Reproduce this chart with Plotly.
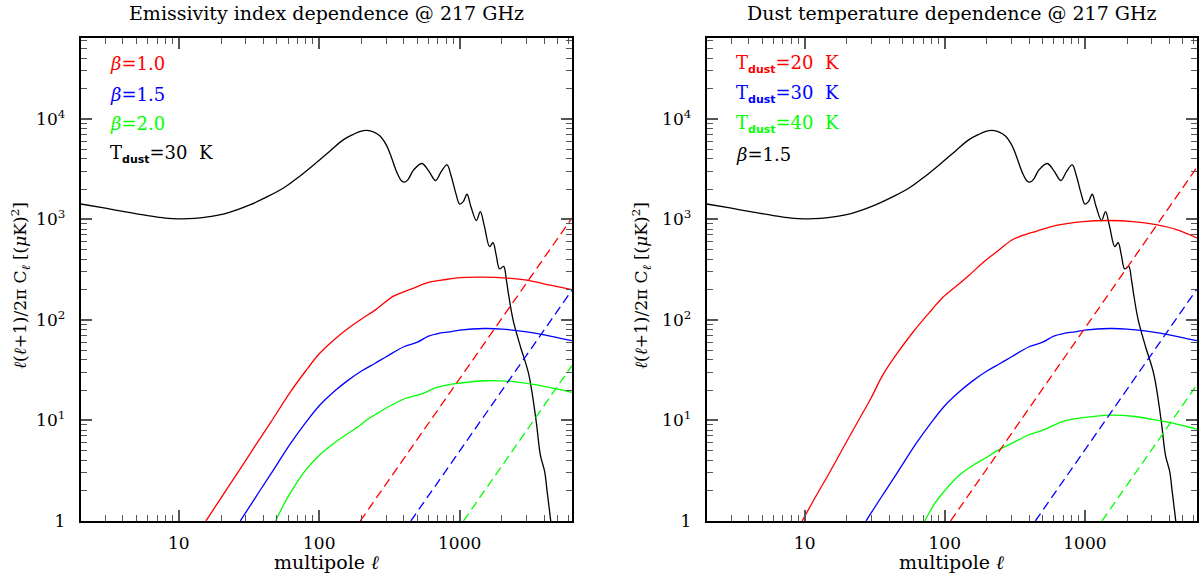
import plotly.graph_objects as go
import math

# ---------------- data ----------------
ell_cmb = [2, 3, 4, 6, 8, 10, 13, 17, 22, 32, 42, 56, 73, 96, 120, 149, 175, 196, 218, 245,
           272, 300, 321, 357, 385, 405, 430, 470, 538, 600, 674, 740, 812, 870, 940, 1000,
           1060, 1128, 1200, 1315, 1403, 1500, 1634, 1727, 1820, 1924, 2055, 2150, 2233,
           2400, 2700, 3100, 3500, 3760, 4030, 4190, 4450, 4700]
cl_cmb = [1420, 1290, 1200, 1090, 1030, 1010, 1020, 1070, 1150, 1390, 1660, 2060, 2700, 3690,
          4820, 6200, 7000, 7480, 7650, 7350, 6700, 5500, 4420, 2930, 2420, 2340, 2500, 3100,
          3590, 3050, 2430, 3000, 3480, 2700, 1800, 1417, 1500, 1775, 1350, 973, 1191, 850,
          534, 585, 440, 321, 341, 250, 176, 100, 55, 29, 10, 4.5, 3.1, 2.0, 1.0, 0.5]

# left panel: emissivity index dependence (T_dust = 30 K)
ell_b10 = [15.6, 20, 27, 35, 45, 62, 80, 100, 130, 160, 200, 250, 338, 450, 618, 800, 957,
           1484, 2173, 3000, 4430, 6300]
cl_b10 = [1, 1.7, 3.2, 5.6, 9.5, 19, 31, 46, 65, 82, 102, 125, 172, 202, 238, 252, 262,
          266, 260, 248, 221, 200]
ell_b15 = [27.4, 35, 45, 62, 80, 100, 130, 160, 200, 250, 300, 400, 500, 600, 700, 850,
           1000, 1500, 2000, 3000, 4000, 6300]
cl_b15 = [1, 1.7, 2.9, 5.8, 9.5, 14, 19.8, 25, 31, 37, 43, 54, 60, 69, 73, 76, 79, 82, 81,
          76, 71, 62]
ell_b20 = [49, 55, 65, 80, 97, 115, 135, 160, 190, 220, 260, 300, 350, 413, 480, 550, 685,
           850, 1000, 1556, 2500, 3530, 6300]
cl_b20 = [1, 1.4, 2.1, 3.2, 4.3, 5.3, 6.3, 7.4, 8.7, 10.2, 11.8, 13.3, 14.9, 16.6, 17.6,
          18.6, 21.3, 22.8, 23.5, 24.8, 24.2, 22.5, 19]

# right panel: dust temperature dependence (beta = 1.5)
ell_t20 = [9.6, 12, 15, 20, 25, 30, 36, 45, 60, 80, 97, 120, 150, 187, 250, 306, 380, 450,
           625, 967, 1497, 2200, 3220, 4500, 6300]
cl_t20 = [1, 1.75, 3.0, 6.2, 10.8, 17, 28, 45, 77, 124, 168, 215, 280, 370, 510, 630, 710,
          760, 870, 950, 973, 950, 884, 790, 654]
ell_t30 = ell_b15
cl_t30 = cl_b15
ell_t40 = [72, 85, 100, 125, 160, 200, 237, 300, 400, 500, 700, 1000, 1500, 2200, 3300, 4500, 6300]
cl_t40 = [1, 1.5, 2.0, 2.8, 3.6, 4.3, 5.0, 5.9, 7.2, 8.0, 9.8, 10.7, 11.3, 11.0, 10.0, 9.2, 8.2]

# dashed (shot-noise-like) components: end points
ell_sn_b10 = [196, 6300]; cl_sn_b10 = [1, 1030]
ell_sn_b15 = [449, 6300]; cl_sn_b15 = [1, 197]
ell_sn_b20 = [1064, 6300]; cl_sn_b20 = [1, 35]
ell_sn_t20 = [110, 6300]; cl_sn_t20 = [1, 3280]
ell_sn_t30 = [443, 6300]; cl_sn_t30 = [1, 202]
ell_sn_t40 = [1325, 6300]; cl_sn_t40 = [1, 22.6]

SUB = "<sub><span style='font-family:DejaVu Sans;font-size:11px'><b>dust</b></span></sub>"
titles = ["Emissivity index dependence @ 217 GHz", "Dust temperature dependence @ 217 GHz"]
labels_left = ["<i>β</i>=1.0", "<i>β</i>=1.5", "<i>β</i>=2.0", "T" + SUB + "=30  K"]
labels_right = ["T" + SUB + "=20  K", "T" + SUB + "=30  K", "T" + SUB + "=40  K", "<i>β</i>=1.5"]
x_tickvals = [10, 100, 1000]
x_ticktext = ["10", "100", "1000"]
y_tickvals = [1, 10, 100, 1000, 10000]
y_ticktext = ["1", "10<sup>1</sup>", "10<sup>2</sup>", "10<sup>3</sup>", "10<sup>4</sup>"]

RED, BLUE, GREEN, BLACK = "#ff0000", "#0000ff", "#00ff00", "#000000"
FONT = "DejaVu Serif"
W, H = 1200, 585

fig = go.Figure()

def add(x, y, color, xa, ya, dash="solid", shape="spline"):
    fig.add_trace(go.Scatter(x=x, y=y, mode="lines", xaxis=xa, yaxis=ya,
                             line=dict(color=color, width=1.3, dash=dash, shape=shape,
                                       smoothing=1.0),
                             showlegend=False, hoverinfo="skip"))

DASH = "9px,5px"
# left panel
add(ell_cmb, cl_cmb, BLACK, "x", "y")
add(ell_b10, cl_b10, RED, "x", "y")
add(ell_b15, cl_b15, BLUE, "x", "y")
add(ell_b20, cl_b20, GREEN, "x", "y")
add(ell_sn_b10, cl_sn_b10, RED, "x", "y", DASH, "linear")
add(ell_sn_b15, cl_sn_b15, BLUE, "x", "y", DASH, "linear")
add(ell_sn_b20, cl_sn_b20, GREEN, "x", "y", DASH, "linear")
# right panel
add(ell_cmb, cl_cmb, BLACK, "x2", "y2")
add(ell_t20, cl_t20, RED, "x2", "y2")
add(ell_t30, cl_t30, BLUE, "x2", "y2")
add(ell_t40, cl_t40, GREEN, "x2", "y2")
add(ell_sn_t20, cl_sn_t20, RED, "x2", "y2", DASH, "linear")
add(ell_sn_t30, cl_sn_t30, BLUE, "x2", "y2", DASH, "linear")
add(ell_sn_t40, cl_sn_t40, GREEN, "x2", "y2", DASH, "linear")

x_minor = [m * 10 ** k for k in range(0, 4) for m in range(2, 10) if m * 10 ** k <= 7000]
y_minor = [m * 10 ** k for k in range(0, 5) for m in range(2, 10) if m * 10 ** k <= 63000]

tickfont = dict(family=FONT, size=17, color="black")

def xaxis(domain, anchor):
    return dict(type="log", domain=domain, anchor=anchor, range=[math.log10(2), 3.80],
                tickmode="array", tickvals=x_tickvals, ticktext=x_ticktext,
                ticks="inside", ticklen=11, tickwidth=1.5, tickcolor="#555",
                showline=True, linecolor="black", linewidth=2, mirror="allticks",
                showgrid=False, zeroline=False, tickfont=tickfont, ticklabelstandoff=6,
                minor=dict(tickmode="array", tickvals=x_minor, ticks="inside",
                           ticklen=6, tickwidth=1.3, tickcolor="#555", showgrid=False))

def yaxis(domain, anchor):
    return dict(type="log", domain=domain, anchor=anchor, range=[0, 4.8],
                tickmode="array", tickvals=y_tickvals, ticktext=y_ticktext,
                ticks="inside", ticklen=11, tickwidth=1.5, tickcolor="#555",
                showline=True, linecolor="black", linewidth=2, mirror="allticks",
                showgrid=False, zeroline=False, tickfont=tickfont, ticklabelstandoff=10,
                minor=dict(tickmode="array", tickvals=y_minor, ticks="inside",
                           ticklen=6, tickwidth=1.3, tickcolor="#555", showgrid=False))

px_l = (80.7, 572.0)
px_r = (706.7, 1197.0)
py = (39.0, 530.0)
xd_l = [px_l[0] / W, px_l[1] / W]
xd_r = [px_r[0] / W, px_r[1] / W]
yd = [1 - py[1] / H, 1 - py[0] / H]

fig.update_layout(
    width=W, height=H, margin=dict(l=0, r=0, t=0, b=0),
    paper_bgcolor="white", plot_bgcolor="white",
    xaxis=xaxis(xd_l, "y"), yaxis=yaxis(yd, "x"),
    xaxis2=xaxis(xd_r, "y2"), yaxis2=yaxis(yd, "x2"),
    font=dict(family=FONT, color="black"),
)

ann = []
for (x0, x1), title, labels, colors, ylab_x in [
        (px_l, titles[0], labels_left, [RED, BLUE, GREEN, BLACK], 20),
        (px_r, titles[1], labels_right, [RED, BLUE, GREEN, BLACK], 641)]:
    cx = (x0 + x1) / 2 / W
    ann.append(dict(text=title, x=cx, y=1 - 13 / H, xref="paper", yref="paper",
                    xanchor="center", yanchor="middle", showarrow=False,
                    font=dict(family=FONT, size=19, color="black")))
    ann.append(dict(text="multipole <i>ℓ</i>", x=cx, y=1 - 572 / H, xref="paper", yref="paper",
                    xanchor="center", yanchor="middle", showarrow=False,
                    font=dict(family=FONT, size=19, color="black")))
    ann.append(dict(text="<i>ℓ</i>(<i>ℓ</i>+1)/2π C<sub><i>ℓ</i></sub> [(<i>μ</i>K)<sup>2</sup>]",
                    x=ylab_x / W, y=1 - 291 / H, xref="paper", yref="paper",
                    xanchor="center", yanchor="middle", textangle=-90, showarrow=False,
                    font=dict(family=FONT, size=17, color="black")))
    for i, (lab, col) in enumerate(zip(labels, colors)):
        yc = [65, 96, 126, 157][i]
        ann.append(dict(text=lab, x=(x0 + 27) / W, y=1 - yc / H, xref="paper", yref="paper",
                        xanchor="left", yanchor="middle", showarrow=False,
                        font=dict(family=FONT, size=18, color=col)))

fig.update_layout(annotations=ann)
fig.write_html("out.html")
